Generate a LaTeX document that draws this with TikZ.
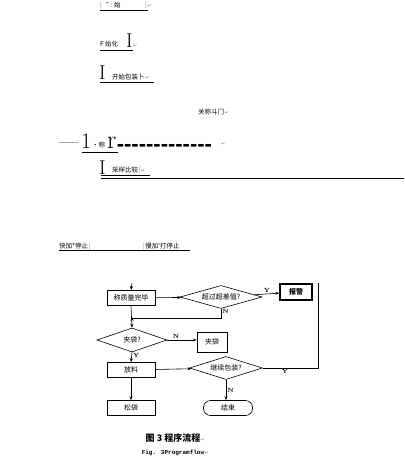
\documentclass[tikz,border=0pt]{standalone}
\usepackage{fontspec}
\newfontfamily\cjk{Noto Sans CJK SC}
\newfontfamily\symb{DejaVu Sans}
\newfontfamily\monofig{Liberation Mono}
\newfontfamily\dashfont{Liberation Sans}
\usetikzlibrary{shapes.geometric,arrows.meta}

\tikzset{
  txt/.style={font=\cjk\fontsize{6.5}{7}\selectfont, inner sep=0pt, anchor=base west},
  pmark/.style={font=\symb\fontsize{5}{6}\selectfont, text=gray, inner sep=0pt, anchor=base west},
  barmark/.style={font=\cjk\fontsize{6.5}{7}\selectfont, text=gray, inner sep=0pt, anchor=base west},
  bigglyph/.style={font=\fontsize{20}{22}\selectfont, inner sep=0pt, anchor=base west},
  uline/.style={draw=black, line width=1pt},
  procbox/.style={draw, line width=0.6pt, minimum width=48pt, minimum height=15pt,
    inner sep=0pt, font=\cjk\fontsize{7}{8}\selectfont},
  decision/.style={diamond, draw, line width=0.6pt, aspect=3.5, inner sep=0pt,
    font=\cjk\fontsize{7}{8}\selectfont},
  yn/.style={font=\fontsize{6}{7}\selectfont\bfseries, inner sep=1pt},
}

\begin{document}
\begin{tikzpicture}[x=1pt, y=-1pt, >={Stealth[length=4pt,width=3pt]}]
    \useasboundingbox (0,0) rectangle (404,465);

    % underlines of the text lines
    \draw[uline] (100,10.5) -- (148,10.5);
    \draw[uline] (100,50.5) -- (133,50.5);
    \draw[uline] (100,82.5) -- (154,82.5);
    \draw[uline] (82,153) -- (118,153);
    \draw[uline] (101,175.5) -- (150,175.5);
    \draw[uline] (101,178) -- (404,178);
    \draw[uline] (59,250.5) -- (190,250.5);

    % garbled text lines
    \node[barmark] (t1bar0) at (100,8) {|};
    \node[txt] (t1) at (t1bar0.base east) {“ : 始};
    \node[barmark] (t1bar) at (145,8) {|};
    \node[pmark] (p1) at (t1bar.base east) {↵};

    \node[txt] (t2) at (100,47) {F 始化};
    \node[bigglyph] (I2) at (126,48) {I};
    \node[pmark] (p2) at (I2.base east) {↵};

    \node[bigglyph] (I3) at (99,80) {I};
    \node[txt] (t3) at (112,80) {开始包装卜};
    \node[pmark] (p3) at (t3.base east) {↵};

    \node[txt] (t4) at (198,115) {关称斗门};
    \node[pmark] (p4) at (t4.base east) {↵};

    \node[font=\fontsize{21}{22}\selectfont, inner sep=0pt, anchor=base west] (d5) at (59,149) {—};
    \node[bigglyph, font=\fontsize{22}{24}\selectfont] (one5) at (81,149) {1};
    \node[txt] (t5) at (92,147) {·称};
    \node[bigglyph, font=\fontsize{26}{28}\selectfont] (r5) at (107,149) {r};
    \node[font=\dashfont\bfseries\fontsize{22}{24}\selectfont, inner sep=0pt, anchor=base west] (dash5) at ([yshift=-2pt]r5.base east) {-------------};
    \node[pmark] (p5) at (221,146) {↵};

    \node[bigglyph] (I6) at (99,174) {I};
    \node[txt] (t6) at (112,172) {采样比较};
    \node[barmark] (t6bar) at (t6.base east) {|};
    \node[pmark] (p6) at (t6bar.base east) {↵};

    \node[txt] (t7a) at (59,248) {快加*停止};
    \node[barmark] (t7bar) at (t7a.base east) {|};
    \node[barmark] (t7bar2) at (143,248) {|};
    \node[txt] (t7b) at (t7bar2.base east) {慢加'打停止};

    % flow chart
    \node[procbox] (weigh) at (131,298) {称质量完毕};
    \node[decision, minimum width=82pt, minimum height=23pt] (over) at (221,297) {超过超差值?};
    \node[procbox, line width=1.2pt, minimum width=32pt, minimum height=16pt, font=\cjk\bfseries\fontsize{7}{8}\selectfont] (alarm) at (296,292) {报警};
    \node[decision, minimum width=70pt, minimum height=24pt] (clamp) at (132,340) {夹袋?};
    \node[procbox, minimum width=30pt, minimum height=20pt] (clampact) at (212,342) {夹袋};
    \node[procbox] (feed) at (131,370) {放料};
    \node[decision, minimum width=73pt, minimum height=23pt] (cont) at (226,368) {继续包装?};
    \node[procbox] (release) at (131,408) {松袋};
    \node[procbox, rounded corners=7pt, minimum width=49pt] (stop) at (228,408) {结束};

    \coordinate (entry) at (132,283);
    \coordinate (merge) at (132,317);
    \coordinate (loopbtm) at (318,368);
    \coordinate (looptop) at (318,283);

    \draw[->, line width=0.6pt] (entry) -- (weigh.north);
    \draw[->, line width=0.6pt] (weigh) -- (over);
    \draw[->, line width=0.6pt] (over) -- node[yn, above, pos=0.5] {Y} (alarm);
    \draw[->, line width=0.6pt] (over.south) -- ++(0,9) node[yn, right, pos=0.3] {N} -| (merge);
    \draw[->, line width=0.6pt] (weigh.south) -- (clamp.north);
    \draw[->, line width=0.6pt] (clamp) -- node[yn, above, pos=0.3] {N} (clampact.west |- clamp);
    \draw[->, line width=0.6pt] (clamp.south) -- node[yn, right, pos=0.3] {Y} (feed.north);
    \draw[->, line width=0.6pt] (feed) -- (cont);
    \draw[line width=0.6pt] (cont.east) -- node[yn, below, pos=0.4] {Y} (loopbtm) -- (looptop);
    \draw[->, line width=0.6pt] (cont.south) -- node[yn, right, pos=0.5] {N} (cont.south |- stop.north);
    \draw[->, line width=0.6pt] (feed.south) -- (release.north);

    % captions
    \node[font=\cjk\bfseries\fontsize{9}{10}\selectfont, inner sep=0pt] (cap) at (173,438) {图 3 程序流程};
    \node[pmark] (pcap) at (cap.base east) {↵};
    \node[font=\monofig\bfseries\fontsize{6}{7}\selectfont, inner sep=0pt] (capen) at (173,453) {Fig. 3Programflow};
    \node[pmark] (pcapen) at (capen.base east) {↵};
\end{tikzpicture}
\end{document}
